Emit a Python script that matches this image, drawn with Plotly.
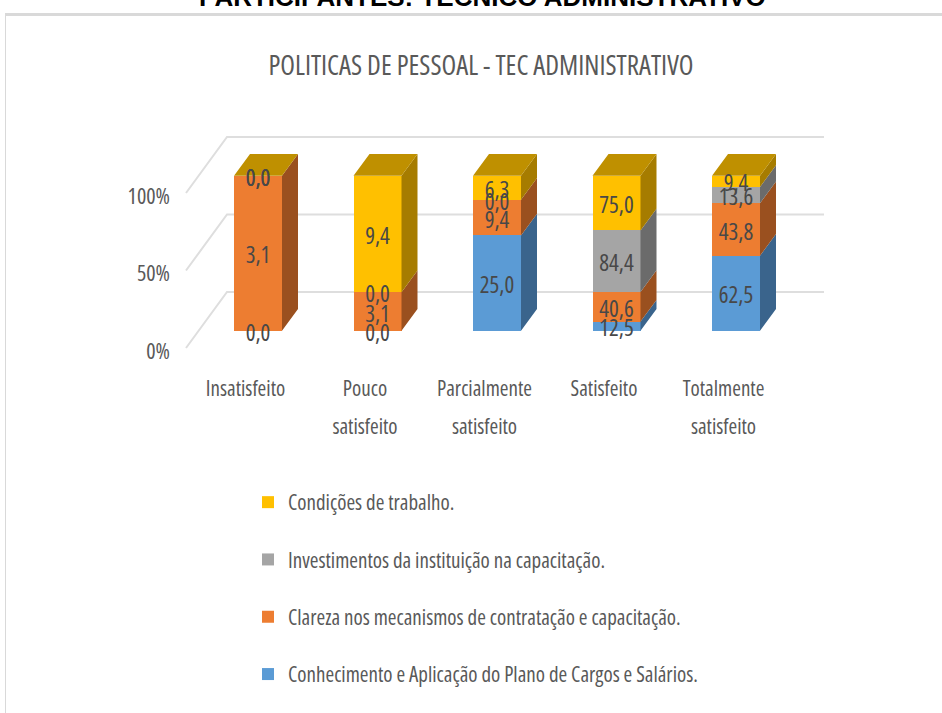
import plotly.graph_objects as go

categories = ["Insatisfeito", "Pouco<br>satisfeito", "Parcialmente<br>satisfeito", "Satisfeito", "Totalmente<br>satisfeito"]
series_names = ["Conhecimento e Aplicação do Plano de Cargos e Salários.",
                "Clareza nos mecanismos de contratação e capacitação.",
                "Investimentos da instituição na capacitação.",
                "Condições de trabalho."]
conhecimento = [0.0, 0.0, 25.0, 12.5, 62.5]
clareza = [3.1, 3.1, 9.4, 40.6, 43.8]
investimentos = [0.0, 0.0, 0.0, 84.4, 13.6]
condicoes = [0.0, 9.4, 6.3, 75.0, 9.4]
series_values = [conhecimento, clareza, investimentos, condicoes]
front_colors = ["#5B9BD5", "#ED7D31", "#A5A5A5", "#FFC000"]
side_colors = ["#3A648C", "#9A501F", "#6B6B6B", "#A67C00"]
top_color = "#BF9000"
y_ticks = [0, 50, 100]
y_tick_labels = ["0%", "50%", "100%"]

W, H = 942, 713
FONT = "Open Sans"

# pixel <-> data scales
PX_X = 119.5       # px per category
PX_Y = 1.55        # px per percent
X0_PX = 258
PLOT_L, PLOT_T, PLOT_B = 171, 100, 366
BAR_W = 48 / PX_X
DX, DY = 16 / PX_X, 21.7 / PX_Y        # bar depth
WALL_X0, WALL_X1, WALL_X2 = (186 - X0_PX) / PX_X, (227 - X0_PX) / PX_X, (824 - X0_PX) / PX_X
WALL_DY = 56 / PX_Y
LABEL_DROP = 4.3 / PX_Y                # data labels sit a little under the segment centre
TICK_DROP = 3 / PX_Y                   # y tick labels sit a little under their gridlines
xr = [(PLOT_L - X0_PX) / PX_X, (W - X0_PX) / PX_X]
yr_wall = [(348 - PLOT_B) / PX_Y, (348 - PLOT_T) / PX_Y]
yr_bars = [(330.7 - PLOT_B) / PX_Y, (330.7 - PLOT_T) / PX_Y]
positions = list(range(len(categories)))
totals = [sum(s[i] for s in series_values) for i in positions]

fig = go.Figure()

wx, wy = [], []
for t in y_ticks:
    wx += [WALL_X0, WALL_X1, WALL_X2, None]
    wy += [t, t + WALL_DY, t + WALL_DY, None]
fig.add_trace(go.Scatter(x=wx, y=wy, mode="lines", line=dict(color="#DEDEDE", width=2),
                         hoverinfo="skip", showlegend=False, xaxis="x", yaxis="y"))

for k, (name, vals) in enumerate(zip(series_names, series_values)):
    fig.add_trace(go.Bar(x=positions, y=vals, name=name, width=BAR_W, marker=dict(color=front_colors[k], line_width=0),
                         legendgroup=name, legendrank=1000 - k, xaxis="x", yaxis="y2"))

cum = [0.0] * len(positions)
lab_x, lab_y, lab_t = [], [], []
for k, vals in enumerate(series_values):
    sx, sy = [], []
    for i in positions:
        lo = cum[i] / totals[i] * 100
        hi = (cum[i] + vals[i]) / totals[i] * 100
        r = i + BAR_W / 2
        if hi > lo:
            sx += [r, r + DX, r + DX, r, r, None]
            sy += [lo, lo + DY, hi + DY, hi, lo, None]
        lab_x.append(i)
        lab_y.append((lo + hi) / 2 - LABEL_DROP)
        lab_t.append(f"{vals[i]:.1f}".replace(".", ","))
        cum[i] += vals[i]
    fig.add_trace(go.Scatter(x=sx, y=sy, mode="lines", fill="toself", fillcolor=side_colors[k], line=dict(width=0),
                             hoverinfo="skip", showlegend=False, xaxis="x", yaxis="y2"))
tx, ty = [], []
for i in positions:
    l, r = i - BAR_W / 2, i + BAR_W / 2
    tx += [l, l + DX, r + DX, r, l, None]
    ty += [100, 100 + DY, 100 + DY, 100, 100, None]
fig.add_trace(go.Scatter(x=tx, y=ty, mode="lines", fill="toself", fillcolor=top_color, line=dict(width=0),
                         hoverinfo="skip", showlegend=False, xaxis="x", yaxis="y2"))
fig.add_trace(go.Scatter(x=lab_x, y=lab_y, text=lab_t, mode="text", textposition="middle center",
                         textfont=dict(family=FONT, size=23, color="#484848"),
                         hoverinfo="skip", showlegend=False, xaxis="x", yaxis="y2", cliponaxis=False))

LABEL_SHIFT = -12.5 / PX_X
fig.update_layout(
    width=W, height=H, margin=dict(l=0, r=0, t=0, b=0),
    paper_bgcolor="white", plot_bgcolor="white",
    barmode="stack", barnorm="percent",
    font=dict(family=FONT, color="#595959"),
    title=dict(text="POLITICAS DE PESSOAL - TEC ADMINISTRATIVO", x=481 / W, xanchor="center",
               y=1 - 66 / H, yanchor="middle", font=dict(family=FONT, size=27, color="#595959")),
    xaxis=dict(domain=[PLOT_L / W, 1], range=xr, showgrid=False, zeroline=False, showline=False, ticks="",
               tickmode="array", tickvals=[p + LABEL_SHIFT for p in positions],
               ticktext=["<br>".join(f"<span style='font-size:21px'>{w}</span>" for w in c.split("<br>")) for c in categories],
               tickfont=dict(family=FONT, size=29, color="#595959"), tickangle=0),
    yaxis=dict(domain=[1 - PLOT_B / H, 1 - PLOT_T / H], range=yr_wall, showgrid=False, zeroline=False, showline=False,
               tickmode="array", tickvals=[t - TICK_DROP for t in y_ticks], ticktext=y_tick_labels, ticks="",
               tickfont=dict(family=FONT, size=22, color="#595959")),
    yaxis2=dict(domain=[1 - PLOT_B / H, 1 - PLOT_T / H], range=yr_bars, overlaying="y", visible=False),
    legend=dict(x=248 / W, xanchor="left", y=1 - 482 / H, yanchor="top",
                tracegroupgap=27, font=dict(family=FONT, size=21, color="#595959"), bgcolor="rgba(0,0,0,0)"),
    showlegend=True,
    annotations=[dict(text="<b>PARTICIPANTES: TECNICO ADMINISTRATIVO</b>", xref="paper", yref="paper",
                      x=482 / W, y=1 - 14 / H, xanchor="center", yanchor="bottom", showarrow=False,
                      font=dict(family="Liberation Sans", size=26, color="#000000"))],
    shapes=[dict(type="line", xref="paper", yref="paper", x0=5 / W, x1=1, y0=1 - 14.5 / H, y1=1 - 14.5 / H,
                 line=dict(color="#D9D9D9", width=3)),
            dict(type="line", xref="paper", yref="paper", x0=5.5 / W, x1=5.5 / W, y0=0, y1=1 - 14 / H,
                 line=dict(color="#D9D9D9", width=1))],
)
fig.write_html("out.html", config={"displayModeBar": False},
               post_script="document.body.style.margin='0';var s=document.createElement('style');s.textContent='svg text{font-stretch:75%;}';document.head.appendChild(s);")
